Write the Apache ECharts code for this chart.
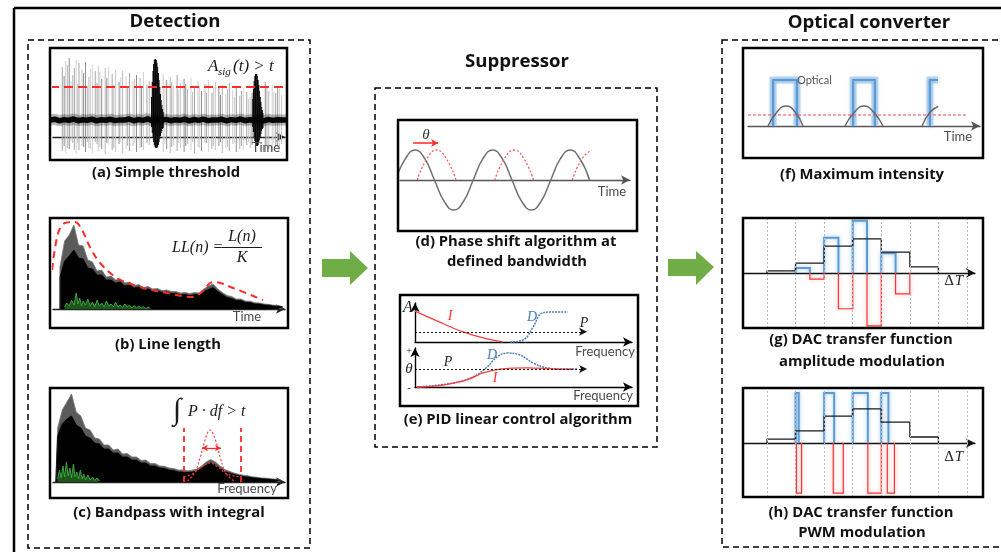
<!DOCTYPE html>
<html><head><meta charset="utf-8">
<script src="https://cdn.jsdelivr.net/npm/echarts@6/dist/echarts.min.js"></script>
<style>html,body{margin:0;padding:0;background:#fff}#c{width:1001px;height:552px}</style>
</head><body><div id="c"></div>
<script>
// ---------------- DATA ----------------
// (a) Simple threshold: spikes [time, top, bottom]
const spikesA = [
 [4,7.0,-1.4],[5.5,7.6,-1.6],[7,7.9,-1.2],[8.5,6.2,-0.6],[10,7.7,-1.7],[11.2,7.4,-1.3],[12.5,6.8,-0.9],[14,7.5,-1.5],
 [15.5,6.0,-1.1],[17,7.2,-1.6],[18.2,6.6,-0.5],[19.5,7.1,-1.4],[21,5.8,-1.2],[22.5,6.9,-1.7],[24,7.0,-0.8],[25.5,6.3,-1.3],
 [27,6.7,-1.5],[28.5,5.5,-0.7],[30,6.6,-1.6],[31.5,6.1,-1.2],[33,6.4,-1.4],[34.5,5.6,-0.9],[36,6.2,-1.5],[37.5,5.9,-1.1],
 [39,6.5,-1.3],[40.5,5.2,-0.6],[47.5,6.3,-1.5],[49,5.7,-1.2],[50.5,6.0,-1.6],[52,5.1,-0.8],[53.5,6.2,-1.4],[55,5.4,-1.1],
 [56.5,5.8,-1.5],[58,4.8,-0.7],[59.5,5.9,-1.3],[61,5.0,-1.6],[62.5,5.6,-1.0],[64,4.6,-1.4],[65.5,5.3,-0.6],[67,5.7,-1.5],
 [68.5,4.4,-1.2],[70,5.5,-1.3],[71.5,4.9,-0.9],[73,5.2,-1.6],[74.5,4.3,-1.1],[76,5.4,-1.4],[77.5,4.7,-0.7],[79,5.0,-1.5],
 [80.5,4.1,-1.2],[82,4.9,-1.3],[83.5,4.5,-0.8],[85,4.0,-1.1],[91.5,5.5,-1.5],[93,4.6,-1.2],[94.5,5.2,-1.4],[96,4.4,-0.9],[97.5,4.8,-1.3],
 [4.8,6.1,-0.9],[6.3,7.2,-1.1],[7.8,5.6,-0.4],[9.2,6.9,-1.3],[10.6,5.3,-0.6],[13.2,6.4,-1.0],[14.8,5.1,-0.5],[16.2,6.8,-1.2],
 [19.0,5.4,-0.7],[20.2,6.5,-1.0],[23.2,5.9,-0.6],[26.2,5.2,-1.1],[29.2,6.0,-0.5],[32.2,5.0,-0.9],[35.2,5.8,-0.6],[38.2,4.9,-1.0],
 [41.5,5.6,-0.8],[48.2,5.0,-0.7],[51.2,5.5,-1.0],[54.2,4.7,-0.6],[57.2,5.3,-0.9],[60.2,4.5,-0.5],[63.2,5.1,-1.1],[66.2,4.4,-0.6],
 [69.2,5.0,-0.9],[72.2,4.2,-0.5],[75.2,4.8,-1.0],[78.2,4.0,-0.6],[81.2,4.6,-0.9],[84.2,3.8,-0.5],[85.8,4.4,-0.8],[92.2,4.9,-0.9],
 [95.2,4.5,-0.6],[96.8,4.9,-1.0],[98.5,4.2,-0.7]
];
const burstsA = [
 [42.6,4.0,1.0],[42.9,5.5,0.4],[43.2,6.6,-0.1],[43.5,7.3,-0.5],[43.8,7.7,-0.8],[44.1,7.8,-1.0],[44.4,7.7,-1.1],[44.7,7.4,-1.1],
 [45.0,7.0,-1.0],[45.3,6.4,-0.8],[45.6,5.7,-0.5],[45.9,5.0,-0.2],[46.2,4.3,0.1],[46.5,3.7,0.4],[46.8,3.2,0.6],[47.1,2.8,0.8],[47.4,2.5,0.9],
 [86.2,3.8,1.0],[86.5,4.8,0.5],[86.8,5.6,0.0],[87.1,6.1,-0.4],[87.4,6.3,-0.7],[87.7,6.3,-0.9],[88.0,6.1,-0.9],[88.3,5.7,-0.8],
 [88.6,5.2,-0.6],[88.9,4.6,-0.3],[89.2,4.0,0.0],[89.5,3.5,0.3],[89.8,3.0,0.6],[90.1,2.7,0.8],[90.4,2.4,0.9]
];
const baselineA = [1.70,1.78,1.62,1.74,1.66,1.80,1.63,1.72,1.68,1.79,1.61,1.73,1.67,1.77,1.64,1.71,1.69,1.80,1.62,1.75,1.66,1.82,1.60,1.74,1.68,1.76,
 1.63,1.72,1.67,1.79,1.62,1.75,1.66,1.78,1.64,1.71,1.69,1.77,1.61,1.74,1.67,1.80,1.63,1.72,1.68,1.76,1.62,1.75,1.66,1.73,1.69,1.71];
const thresholdA = 5.0;

// (b) Line length (x = 3,5,...,99)
const blackB = [3.2,4.8,5.3,5.9,5.1,5.0,4.1,4.0,3.4,3.4,2.9,2.9,2.6,2.7,2.3,2.4,2.1,2.2,1.9,2.0,1.8,1.85,1.65,1.7,1.55,1.55,1.4,1.45,1.35,1.45,
 1.4,1.75,1.95,2.15,1.75,1.45,1.15,1.05,0.85,0.85,0.65,0.65,0.5,0.5,0.4,0.38,0.3,0.28,0.2];
const grayB = [4.2,6.8,7.4,8.4,6.4,6.3,4.9,4.7,3.8,3.9,3.2,3.3,2.9,3.0,2.6,2.7,2.35,2.45,2.15,2.25,2.0,2.05,1.85,1.9,1.75,1.75,1.6,1.65,1.55,1.65,
 1.6,2.0,2.3,2.5,2.0,1.65,1.35,1.25,1.0,1.0,0.8,0.78,0.62,0.6,0.5,0.46,0.38,0.34,0.25];
const greenB = [[5,0.2],[6,0.6],[7,0.3],[8,0.9],[9,0.4],[10,1.6],[10.8,0.5],[11.5,1.1],[12.3,0.3],[13,0.8],[14,0.4],[15,1.0],[16,0.3],[17,0.7],
 [18,0.2],[19,0.9],[20,0.3],[21,0.6],[22,0.2],[23,0.8],[24,0.3],[25,0.5],[26,0.2],[27,0.7],[28,0.2],[29,0.4],[30,0.15],[31,0.5],[32,0.2],
 [33,0.4],[34,0.1],[35,0.35],[36,0.1],[37,0.3],[38,0.1],[39,0.25],[40,0.05],[41,0.2],[42,0.05]];
const envelopeB = [[-0.4,3.9],[2.2,7.6],[5.2,8.6],[9.5,8.7],[12.5,7.9],[15.9,6.2],[20.3,4.6],[27.6,3.1],[37.5,2.2],[49.1,1.6],
 [60.3,1.2],[64.2,1.7],[67.7,2.6],[69.8,2.7],[77.6,2.1],[90.5,0.9]];

// (c) Bandpass (x = 2,4,...,98)
const blackC = [4.6,5.8,6.3,6.6,5.7,5.4,4.6,4.4,3.9,3.8,3.3,3.3,2.9,2.9,2.5,2.5,2.2,2.2,1.9,1.9,1.6,1.6,1.4,1.35,1.2,1.15,1.0,1.0,0.95,1.0,
 1.1,1.35,1.7,1.9,1.7,1.35,1.05,0.9,0.75,0.65,0.55,0.5,0.42,0.38,0.32,0.3,0.25,0.22,0.18];
const grayC = [5.4,7.2,8.0,8.8,7.0,6.6,5.4,5.2,4.4,4.3,3.7,3.7,3.2,3.3,2.8,2.85,2.5,2.5,2.15,2.2,1.85,1.85,1.6,1.58,1.4,1.35,1.2,1.2,1.12,1.18,
 1.3,1.6,2.0,2.25,2.0,1.6,1.25,1.08,0.9,0.78,0.68,0.62,0.52,0.48,0.4,0.38,0.32,0.28,0.22];
const greenC = [[2,0.3],[2.8,1.2],[3.5,0.4],[4.3,1.6],[5,0.5],[5.8,2.0],[6.5,0.6],[7.3,1.4],[8,0.4],[8.8,1.8],[9.5,0.5],[10.3,1.0],[11,0.3],
 [11.8,1.2],[12.5,0.3],[13.3,0.8],[14,0.2],[15,0.7],[16,0.2],[17,0.5],[18,0.15],[19,0.4],[20,0.1]];
const bandC = [56.5, 81.0];
const bandTopC = 5.4;
const gaussC = [[58,0.1],[61,0.9],[63.5,2.5],[65.5,4.2],[67.7,5.2],[70,4.2],[72,2.5],[74.5,0.9],[78,0.1]];
const lowerC = [[56.5,0.5],[60,0.8],[64,1.5],[67.7,1.9],[71,1.5],[75,0.8],[81,0.5]];
const widthArrowC = [64.2, 72.4, 3.4];

// (d) Phase shift (degrees)
const sineD = [[0,0],[45,0.71],[90,1],[135,0.71],[180,0],[225,-0.71],[270,-1],[315,-0.71],[360,0],[405,0.71],[450,1],[495,0.71],[540,0],
 [585,-0.71],[630,-1],[675,-0.71],[720,0],[765,0.71],[810,1],[855,0.71],[900,0]];
const shiftedD = [
 [[100,0],[145,0.71],[190,1],[235,0.71],[280,0]],
 [[460,0],[505,0.71],[550,1],[595,0.71],[640,0]],
 [[820,0],[865,0.71],[910,1]]
];
const thetaArrowD = [81, 197, 1.23];

// (e) PID
const pidI1 = [[0,0.79],[10.1,0.54],[22.1,0.26],[33.2,0.08],[40.5,0]];
const pidD1 = [[43.8,0],[49.8,0.05],[54.4,0.38],[58.5,0.74],[63.6,0.77],[70.5,0.77]];
const pidP1 = 0.26;
const pidI2 = [[0.9,0],[12.9,0.05],[24,0.18],[31.3,0.36],[39.2,0.46],[51.6,0.49],[66.8,0.46],[72.8,0.46]];
const pidD2 = [[0.9,0],[17.5,0.1],[26.7,0.26],[33.2,0.51],[37.8,0.77],[42.4,0.87],[48.4,0.82],[54.4,0.62],[60.8,0.49],[70,0.46],[74.7,0.46]];
const pidP2 = 0.46;
const pidPEnd = 79.3;

// (f) Maximum intensity
const humpsF = [
 [[8.6,0],[12.5,1.4],[16.4,2.0],[20.3,1.4],[23.7,0]],
 [[41.8,0],[45.9,1.4],[50.0,2.0],[54.1,1.4],[58.2,0]],
 [[75.0,0],[78.5,1.4],[82.0,1.95]]
];
const pulsesF = [[10.8,21.1,4.6,0],[45.3,54.7,4.6,0],[78.4,81.9,4.6,1]]; // [start,end,height,open]
const thresholdF = [0, 94.8, 1.1];

// (g) Amplitude modulation (interval k starts at x = k)
const dividers = [1,2,3,4,5,6,7,8];
const levelsG = [0.04,0.18,0.49,0.62,0.38,0.11];
const blueG = [0,0.09,0.64,0.95,0.36,0];
const redG = [0,-0.11,-0.65,-0.96,-0.38,0];

// (h) PWM modulation
const levelsH = [0.07,0.22,0.49,0.62,0.38,0.11];
const blueWidthH = [0,0.11,0.35,0.53,0.25,0];
const redSpanH = [[0,0],[0.03,0.21],[0.32,0.67],[0.53,1.0],[0.21,0.46],[0,0]];
const pulseH = 0.91;

// ---------------- LAYOUT ----------------
const grids = [
 {left:53, top:48, width:232, height:112},
 {left:53, top:218, width:232, height:110},
 {left:53, top:388, width:232, height:110},
 {left:400, top:120, width:230, height:111},
 {left:415, top:303, width:217, height:39},
 {left:415, top:348, width:217, height:39},
 {left:748, top:48, width:232, height:110},
 {left:743, top:218, width:232, height:110},
 {left:743, top:388, width:232, height:109}
];
const xr = [[0,100],[0,100],[0,100],[20,1088],[0,100],[0,100],[0,100],[0.16,8.28],[0.16,8.28]];
const yr = [[-2.3,8.9],[-1.9,9.1],[-1.6,9.4],[-1.7,2.0],[0,1],[0,1],[-3.2,7.8],[-1,1],[-0.98,1]];
const axisCol = ['#222','#222','#222','#555','#000','#000','#555','#111','#111'];

const xAxis = grids.map((g,i)=>({gridIndex:i,type:'value',min:xr[i][0],max:xr[i][1],
  axisLine:{show:true,onZero:true,symbol:['none','arrow'],symbolSize:[7,9],lineStyle:{color:axisCol[i],width:1.4}},
  axisTick:{show:false},axisLabel:{show:false},splitLine:{show:false}}));
const yAxis = grids.map((g,i)=>({gridIndex:i,type:'value',min:yr[i][0],max:yr[i][1],
  axisLine:{show:(i===4||i===5),onZero:true,symbol:['none','arrow'],symbolSize:[7,9],lineStyle:{color:'#000',width:1.4}},
  axisTick:{show:false},axisLabel:{show:false},splitLine:{show:false}}));

function L(i, data, ls, extra){ return Object.assign({type:'line',xAxisIndex:i,yAxisIndex:i,data:data,symbol:'none',silent:true,
  animation:false,clip:false,lineStyle:ls},extra||{}); }
function spikeSeries(i, data, colors, w){ return {type:'custom',xAxisIndex:i,yAxisIndex:i,data:data,silent:true,animation:false,
  renderItem:function(p,api){const a=api.coord([api.value(0),api.value(1)]);const b=api.coord([api.value(0),api.value(2)]);
   return {type:'line',shape:{x1:a[0],y1:a[1],x2:b[0],y2:b[1]},style:{stroke:colors[p.dataIndex%colors.length],lineWidth:w}};}}; }
function outline(i, data, color, w, glow){ return {type:'custom',xAxisIndex:i,yAxisIndex:i,data:data,silent:true,animation:false,clip:false,
  renderItem:function(p,api){const x0=api.value(0),x1=api.value(1),h=api.value(2),open=api.value(3);
   const pts=[[x0,0],[x0,h],[x1,h]]; if(!open) pts.push([x1,0]);
   return {type:'polyline',shape:{points:pts.map(q=>api.coord(q))},style:{stroke:color,lineWidth:w,fill:'none',
     shadowBlur:glow?4:0,shadowColor:glow||'rgba(0,0,0,0)'}};}}; }
function arrowSeries(i, a, b, color, w, type, syms, size){ return {type:'line',xAxisIndex:i,yAxisIndex:i,data:[a,b],symbol:'none',
  silent:true,animation:false,lineStyle:{opacity:0},
  markLine:{silent:true,animation:false,symbol:syms,symbolSize:size||[6,8],label:{show:false},
   lineStyle:{color:color,width:w,type:type},data:[[{coord:a},{coord:b}]]}}; }
function steps(levels){ const out=[]; levels.forEach((v,k)=>{ if(k===0) out.push([k+1,0]); out.push([k+1,v]); out.push([k+2,v]); });
  out.push([levels.length+1,0]); return out; }

const series = [];
// (a)
series.push(spikeSeries(0, spikesA, ['#a6a6a6','#c8c8c8','#8e8e8e','#b8b8b8','#d2d2d2'], 1));
series.push(L(0, baselineA.map((v,k)=>[-1.2+2*k,v]), {color:'rgba(0,0,0,0.28)',width:11}));
series.push(L(0, baselineA.map((v,k)=>[-1.2+2*k,v]), {color:'#050505',width:5.5}));
series.push(spikeSeries(0, burstsA, ['#000','#111','#222'], 1.6));
series.push(L(0, [[-1.3,thresholdA],[100.8,thresholdA]], {color:'#ff2a2a',width:2,type:[9,5]}));
// (b)
series.push(L(1, [[3,0]].concat(grayB.map((v,k)=>[3+2*k,v])), {color:'#777',width:0.8}, {areaStyle:{color:'#5a5a5a',opacity:1}}));
series.push(L(1, [[3,0]].concat(blackB.map((v,k)=>[3+2*k,v])), {color:'#000',width:0.8}, {areaStyle:{color:'#000',opacity:1}}));
series.push(L(1, greenB, {color:'#3fa33f',width:1}, {areaStyle:{color:'#2f8f2f',opacity:0.6}}));
series.push(L(1, envelopeB, {color:'#ff2a2a',width:2,type:[7,5]}, {smooth:0.35}));
// (c)
series.push(L(2, [[1.2,0]].concat(grayC.map((v,k)=>[2+2*k,v])), {color:'#777',width:0.8}, {areaStyle:{color:'#5a5a5a',opacity:1}}));
series.push(L(2, [[1.2,0]].concat(blackC.map((v,k)=>[2+2*k,v])), {color:'#000',width:0.8}, {areaStyle:{color:'#000',opacity:1}}));
series.push(L(2, greenC, {color:'#3fa33f',width:1}, {areaStyle:{color:'#2f8f2f',opacity:0.6}}));
bandC.forEach(x=>series.push(arrowSeries(2,[x,0],[x,bandTopC],'#ff2a2a',1.8,[6,4],['none','none'])));
series.push(L(2, gaussC, {color:'#ff3b3b',width:1.2,type:[2,2]}, {smooth:0.4}));
series.push(L(2, lowerC, {color:'#ff3b3b',width:1.2,type:[2,2]}, {smooth:0.4}));
series.push(arrowSeries(2,[widthArrowC[0],widthArrowC[2]],[widthArrowC[1],widthArrowC[2]],'#ff2a2a',1.3,'solid',['arrow','arrow'],[5,6]));
// (d)
series.push(L(3, sineD, {color:'#707070',width:1.5}, {smooth:0.5, clip:true}));
shiftedD.forEach(h=>series.push(L(3, h, {color:'#ff5a5a',width:1.3,type:[2,2]}, {smooth:0.5})));
series.push(arrowSeries(3,[thetaArrowD[0],thetaArrowD[2]],[thetaArrowD[1],thetaArrowD[2]],'#ff3030',1.6,'solid',['none','arrow'],[6,7]));
// (e)
series.push(arrowSeries(4,[0,pidP1],[pidPEnd,pidP1],'#111',1,[2,2],['none','arrow'],[6,8]));
series.push(L(4, pidI1, {color:'#ff3b3b',width:1.3}, {smooth:0.4}));
series.push(L(4, pidD1, {color:'#4a7ebb',width:1.5,type:[2,1]}, {smooth:0.4}));
series.push(arrowSeries(5,[0,pidP2],[pidPEnd,pidP2],'#111',1,[2,2],['none','arrow'],[6,8]));
series.push(L(5, pidD2, {color:'#4a7ebb',width:1.5,type:[2,1]}, {smooth:0.4}));
series.push(L(5, pidI2, {color:'#ff3b3b',width:1.3}, {smooth:0.4}));
// (f)
series.push(L(6, [[thresholdF[0],thresholdF[2]],[thresholdF[1],thresholdF[2]]], {color:'#ff4a4a',width:1.2,type:[3,2]}));
humpsF.forEach(h=>series.push(L(6, h, {color:'#666',width:1.4}, {smooth:0.5})));
series.push(outline(6, pulsesF, '#c5dcf2', 7, null));
series.push(outline(6, pulsesF, '#5b9bd5', 2.2, 'rgba(91,155,213,0.8)'));
// (g)
series.push({type:'line',xAxisIndex:7,yAxisIndex:7,data:[],silent:true,animation:false,
  markLine:{silent:true,animation:false,symbol:['none','none'],label:{show:false},lineStyle:{color:'#b8b8b8',width:1,type:[2,2]},
   data:dividers.map(x=>({xAxis:x}))}});
series.push(outline(7, blueG.map((v,k)=>[k+1,k+1.5,v,0]).filter(d=>d[2]!==0), '#5b9bd5', 2, 'rgba(91,155,213,0.6)'));
series.push(outline(7, redG.map((v,k)=>[k+1.5,k+2,v,0]).filter(d=>d[2]!==0), '#ff3030', 1.2, 'rgba(255,80,80,0.5)'));
series.push(L(7, steps(levelsG), {color:'#1a1a1a',width:1.3}));
// (h)
series.push({type:'line',xAxisIndex:8,yAxisIndex:8,data:[],silent:true,animation:false,
  markLine:{silent:true,animation:false,symbol:['none','none'],label:{show:false},lineStyle:{color:'#b8b8b8',width:1,type:[2,2]},
   data:dividers.map(x=>({xAxis:x}))}});
series.push(outline(8, blueWidthH.map((w,k)=>[k+1,k+1+w,pulseH,0]).filter(d=>d[1]>d[0]), '#5b9bd5', 2, 'rgba(91,155,213,0.6)'));
series.push(outline(8, redSpanH.map((s,k)=>[k+1+s[0],k+1+s[1],-pulseH,0]).filter(d=>d[1]>d[0]), '#ff3030', 1.2, 'rgba(255,80,80,0.5)'));
series.push(L(8, steps(levelsH), {color:'#1a1a1a',width:1.3}));

// ---------------- DECORATION ----------------
const SERIF = 'Liberation Serif';
function T(text,x,y,font,fill,align){ return {type:'text',x:x,y:y,z:20,silent:true,style:{text:text,font:font,fill:fill||'#111',
  textAlign:align||'center',align:align||'center',textVerticalAlign:'middle',verticalAlign:'middle'}}; }
function R(x,y,w,h,lw,dash){ return {type:'rect',z:15,silent:true,shape:{x:x,y:y,width:w,height:h},
  style:{fill:'none',stroke:'#000',lineWidth:lw,lineDash:dash||null}}; }
function Ln(x1,y1,x2,y2,lw,col){ return {type:'line',z:15,silent:true,shape:{x1:x1,y1:y1,x2:x2,y2:y2},style:{stroke:col||'#000',lineWidth:lw}}; }
const cap = 'bold 14.8px "Open Sans"';
const ttl = 'bold 18.6px "Open Sans"';
const lab = '13px Lato';
const labC = '#4a4a4a';
const graphic = [
 Ln(14,8,1001,8,2.5), Ln(14,8,14,552,2.5),
 R(28,40,282,508,1.5,[6,4]), R(375,88,282,359,1.5,[6,4]), R(722,40,300,507,1.5,[6,4]),
 T('Detection',175,22,ttl), T('Suppressor',517,62,ttl), T('Optical converter',869,23,ttl),
 R(50,48,237,112,2.5), R(50,218,238,110,2.5), R(50,388,238,110,2.5),
 R(398,120,239,111,2.5), R(400,295,238,111,2.5),
 R(743,48,240,110,2.5), R(743,218,240,110,2.5), R(743,388,240,109,2.5),
 T('(a) Simple threshold',166,173,cap), T('(b) Line length',168,345,cap), T('(c) Bandpass with integral',169,513,cap),
 T('(d) Phase shift algorithm at',516,242,cap), T('defined bandwidth',517,262,cap), T('(e) PID linear control algorithm',518,420,cap),
 T('(f) Maximum intensity',862,175,cap), T('(g) DAC transfer function',861,340,cap), T('amplitude modulation',862,362,cap),
 T('(h) DAC transfer function',861,513,cap), T('PWM modulation',862,533,cap),
 {type:'polygon',z:15,silent:true,shape:{points:[[322,259],[350,259],[350,251],[368,268],[350,285],[350,277],[322,277]]},style:{fill:'#70ad47'}},
 {type:'polygon',z:15,silent:true,shape:{points:[[668,259],[696,259],[696,251],[714,267],[696,285],[696,276],[668,276]]},style:{fill:'#70ad47'}},
 // (a)
 T('Time',266,148,lab,labC), T('A',208,67,'italic 17px '+SERIF,'#1a1a1a','left'), T('sig',218,72,'italic 11px '+SERIF,'#1a1a1a','left'),
 T('(t) > t',233,67,'italic 17px '+SERIF,'#1a1a1a','left'),
 // (b)
 T('Time',247,317,lab,labC), T('LL(n) =',172,248,'italic 16px '+SERIF,'#1a1a1a','left'),
 T('L(n)',242,237,'italic 16px '+SERIF,'#1a1a1a'), Ln(222,247.5,262,247.5,1,'#1a1a1a'), T('K',242,258,'italic 16px '+SERIF,'#1a1a1a'),
 // (c)
 T('Frequency',247,489,lab,labC), T('\u222B',177,411,'italic 30px '+SERIF,'#1a1a1a'), T('P \u00B7 df > t',188,412,'italic 16px '+SERIF,'#1a1a1a','left'),
 // (d)
 T('\u03B8',426,135,'italic 15px '+SERIF,'#333'), T('Time',612,192,lab,labC),
 // (e)
 T('A',408,308,'italic 16px '+SERIF,'#222'), T('I',450,316,'italic 14px '+SERIF,'#ff3030'), T('D',532,317,'italic 14px '+SERIF,'#4a7ebb'),
 T('P',584,323,'italic 14px '+SERIF,'#222'), T('Frequency',605,352,lab,labC),
 T('+',409,351,'10px '+SERIF,'#222'), T('\u03B8',409,369,'italic 15px '+SERIF,'#222'), T('-',409,388,'11px '+SERIF,'#222'),
 T('P',448,362,'italic 14px '+SERIF,'#222'), T('D',492,355,'italic 14px '+SERIF,'#4a7ebb'), T('I',495,378,'italic 14px '+SERIF,'#ff3030'),
 T('Frequency',603,396,lab,labC),
 // (f)
 T('Optical',797,80,'11px Lato','#555','left'), T('Time',958,137,lab,labC),
 // (g),(h)
 T('\u0394',949,281,'15px '+SERIF,'#222'), T('T',959,281,'italic 15px '+SERIF,'#222'),
 T('\u0394',949,457,'15px '+SERIF,'#222'), T('T',959,457,'italic 15px '+SERIF,'#222')
];

const chart = echarts.init(document.getElementById('c'), null, {renderer:'canvas', width:1001, height:552});
chart.setOption({backgroundColor:'#fff', animation:false, grid:grids, xAxis:xAxis, yAxis:yAxis, series:series, graphic:graphic});
</script></body></html>
